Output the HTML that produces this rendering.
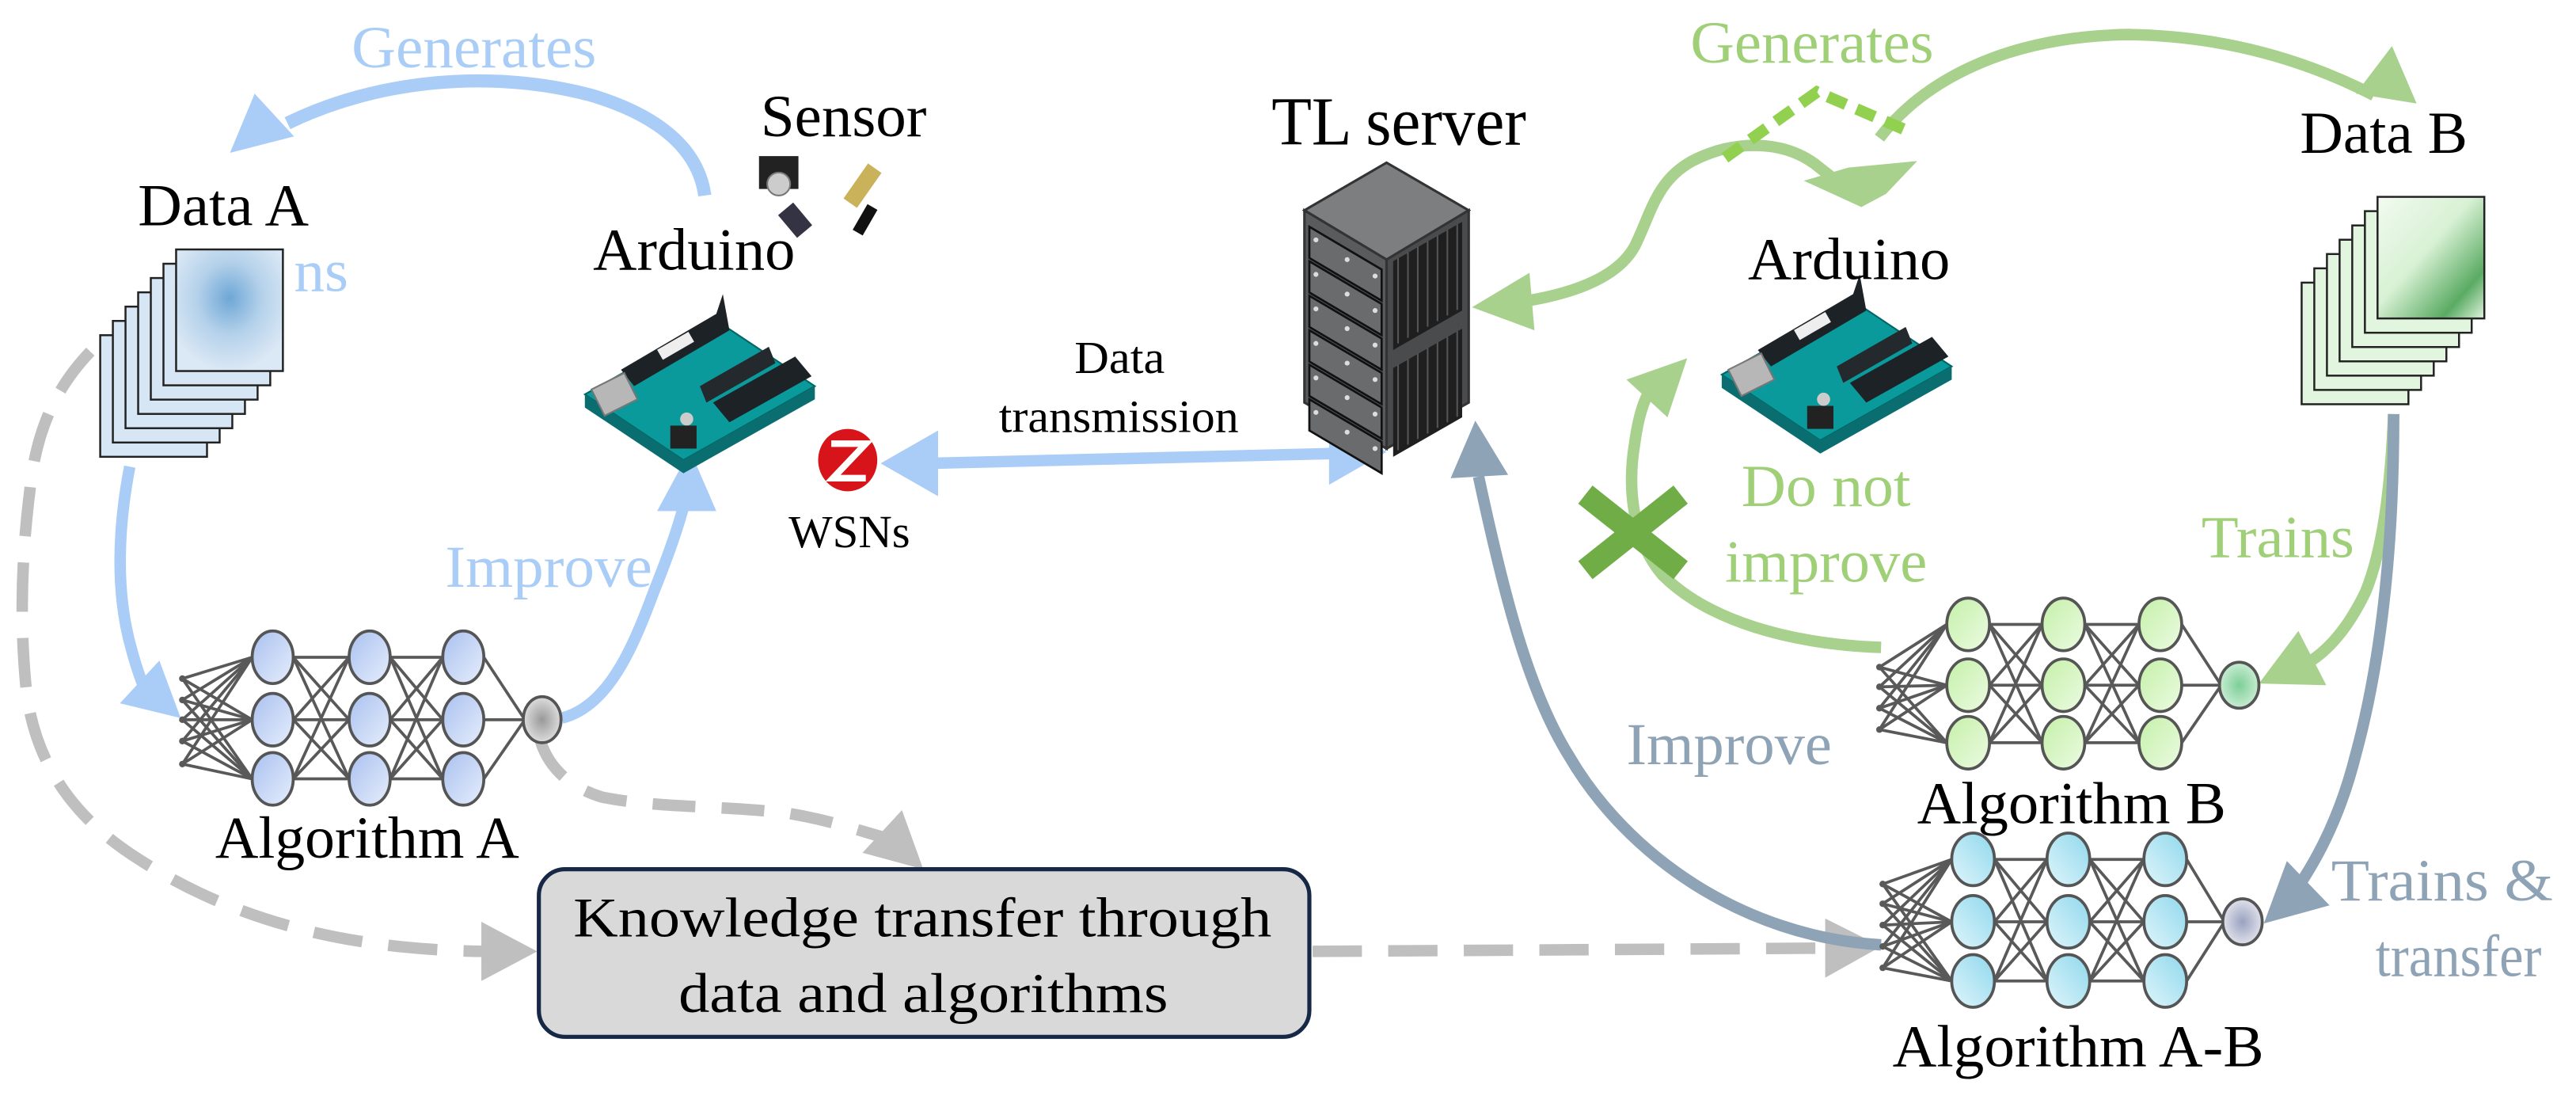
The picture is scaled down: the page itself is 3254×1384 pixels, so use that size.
<!DOCTYPE html>
<html><head><meta charset="utf-8"><style>
html,body{margin:0;padding:0;background:#fff;}
svg{display:block;}
svg text{font-family:"Liberation Serif","DejaVu Serif","Times New Roman",Times,serif !important;}
</style></head><body>
<svg id="s" width="3254" height="1384" viewBox="0 0 1568 667" preserveAspectRatio="none" xmlns="http://www.w3.org/2000/svg" style="font-family:'Liberation Serif','DejaVu Serif',serif">
<defs>
<linearGradient id="gA" x1="0" y1="0" x2="1" y2="1"><stop offset="0" stop-color="#a9c0ef"/><stop offset="1" stop-color="#e6eefc"/></linearGradient>
<linearGradient id="gB" x1="0" y1="0" x2="1" y2="1"><stop offset="0" stop-color="#c4f0a8"/><stop offset="1" stop-color="#ecfbe2"/></linearGradient>
<linearGradient id="gC" x1="1" y1="0" x2="0" y2="1"><stop offset="0" stop-color="#8fd8ec"/><stop offset="1" stop-color="#e0f5fb"/></linearGradient>
<radialGradient id="oA"><stop offset="0" stop-color="#999"/><stop offset="1" stop-color="#ddd"/></radialGradient>
<radialGradient id="oB"><stop offset="0" stop-color="#7dcf98"/><stop offset="1" stop-color="#c8ecd2"/></radialGradient>
<radialGradient id="oC"><stop offset="0" stop-color="#9aa2c0"/><stop offset="1" stop-color="#dfe1ea"/></radialGradient>
<radialGradient id="hA" cx="0.5" cy="0.4" r="0.6"><stop offset="0" stop-color="#6ea7d6"/><stop offset="0.5" stop-color="#b4d1ea"/><stop offset="1" stop-color="#dbe8f5"/></radialGradient>
<linearGradient id="hB" x1="0" y1="0" x2="1" y2="1"><stop offset="0" stop-color="#f2fbf0"/><stop offset="0.45" stop-color="#d8f1d4"/><stop offset="0.8" stop-color="#5aab63"/><stop offset="1" stop-color="#e1f4de"/></linearGradient>
</defs>

<g id="stackA" stroke="#222" stroke-width="1.2" fill="#d6e6f5"></g>
<g id="stackB" stroke="#222" stroke-width="1.2" fill="#e2f5df"></g>

<path d="M429,119 C425,90 400,70 360,58 C300,42 230,48 175,75" fill="none" stroke="#a9cdf7" stroke-width="8"/>
<polygon points="140,93 155,57 179,83" fill="#a9cdf7"/>
<path d="M79,284 C72,320 70,360 80,395 C84,410 88,420 92,428" fill="none" stroke="#a9cdf7" stroke-width="7"/>
<polygon points="110,437 73,428 97,402" fill="#a9cdf7"/>
<path d="M342,437 C370,430 385,395 398,360 C408,335 413,320 417,305" fill="none" stroke="#a9cdf7" stroke-width="7"/>
<polygon points="420,274 400,311 436,311" fill="#a9cdf7"/>
<line x1="565" y1="282" x2="812" y2="276" stroke="#a9cdf7" stroke-width="7"/>
<polygon points="536,282 571,262 571,302" fill="#a9cdf7"/>
<polygon points="844,275 809,255 809,295" fill="#a9cdf7"/>

<path d="M55,214 C35,235 22,260 18,300 C13,340 12,380 16,420 C22,470 50,500 80,520 C140,560 210,578 295,579" fill="none" stroke="#bfbfbf" stroke-width="7" stroke-dasharray="30,16"/>
<polygon points="327,579 293,561 293,597" fill="#bfbfbf"/>
<path d="M329,451 C335,470 350,480 366,485 C400,492 440,490 480,495 C510,500 530,508 540,510" fill="none" stroke="#bfbfbf" stroke-width="7" stroke-dasharray="26,16"/>
<polygon points="562,529 525,519 549,493" fill="#bfbfbf"/>
<line x1="799" y1="579" x2="1115" y2="577" stroke="#bfbfbf" stroke-width="7" stroke-dasharray="30,16"/>
<polygon points="1145,576 1111,559 1111,595" fill="#bfbfbf"/>

<rect x="328" y="529" width="469" height="102" rx="16" fill="#d9d9d9" stroke="#162845" stroke-width="2.5"/>
<text x="349" y="570" font-size="34" textLength="425" lengthAdjust="spacingAndGlyphs">Knowledge transfer through</text>
<text x="413" y="616" font-size="34" textLength="298" lengthAdjust="spacingAndGlyphs">data and algorithms</text>

<path d="M1144,84 C1170,50 1220,22 1296,21 C1360,22 1410,40 1445,58" fill="none" stroke="#a9d18e" stroke-width="7"/>
<polygon points="1471,63 1434,57 1456,28" fill="#a9d18e"/>
<path d="M930,183 C960,178 985,168 995,150 C1005,130 1008,110 1030,98 C1055,85 1085,85 1105,100 C1115,108 1122,113 1126,118" fill="none" stroke="#a9d18e" stroke-width="7"/>
<polygon points="896,187 931,166 934,201" fill="#a9d18e"/>
<polygon points="1133,126 1098,110 1125,102 1167,98 1148,118" fill="#a9d18e"/>
<path d="M1050,96 L1106,56 L1162,80" fill="none" stroke="#92d050" stroke-width="7" stroke-dasharray="12,7"/>
<path d="M1145,394 C1090,392 1040,378 1012,350 C995,330 990,300 995,270 C997,255 1000,245 1004,238" fill="none" stroke="#a9d18e" stroke-width="7"/>
<polygon points="1027,218 990,231 1015,254" fill="#a9d18e"/>
<g stroke="#70ad47" stroke-width="14"><line x1="965" y1="301" x2="1023" y2="347"/><line x1="1023" y1="301" x2="965" y2="347"/></g>
<path d="M1457,252 C1455,300 1450,335 1440,360 C1428,385 1415,398 1402,405" fill="none" stroke="#a9d18e" stroke-width="7"/>
<polygon points="1375,416 1399,384 1416,417" fill="#a9d18e"/>
<path d="M1457,252 C1457,330 1450,400 1434,459 C1425,495 1412,520 1400,538" fill="none" stroke="#8ea3b5" stroke-width="7"/>
<polygon points="1378,562 1392,524 1418,551" fill="#8ea3b5"/>
<path d="M1145,575 C1060,570 990,520 955,460 C930,420 915,360 900,290" fill="none" stroke="#8ea3b5" stroke-width="7"/>
<polygon points="898,256 883,291 918,289" fill="#8ea3b5"/>

<g stroke="#333" stroke-width="1.5">
<polygon points="844,99 894,128 844,158 794,128" fill="#7d7e80"/>
<polygon points="794,128 844,158 844,273 794,245" fill="#5a5b5d"/>
<polygon points="844,158 894,128 894,245 844,273" fill="#4a4b4d"/>
</g>
<g id="srv"></g>

<g id="ardL" transform="translate(356,185)"></g>
<g id="ardR" transform="translate(1048,173)"></g>

<g>
<rect x="462" y="95" width="24" height="20" fill="#222"/>
<circle cx="474" cy="112" r="7" fill="#ccc" stroke="#777"/>
<rect x="520" y="100" width="10" height="26" fill="#c9b25a" transform="rotate(35 525 113)"/>
<rect x="478" y="125" width="12" height="18" fill="#334" transform="rotate(-40 484 134)"/>
<rect x="523" y="125" width="7" height="18" fill="#111" transform="rotate(30 527 134)"/>
</g>

<ellipse cx="516" cy="280" rx="18" ry="19" fill="#d7141a"/>
<path d="M506,270 L527,270 L507,291 L527,291" fill="none" stroke="#fff" stroke-width="4"/>

<g id="nets"></g>

<g font-size="36">
<text x="214" y="41" fill="#a9cdf7" textLength="149" lengthAdjust="spacingAndGlyphs">Generates</text>
<text x="1029" y="38" fill="#9fd077" textLength="148" lengthAdjust="spacingAndGlyphs">Generates</text>
<text x="463" y="83" textLength="101" lengthAdjust="spacingAndGlyphs">Sensor</text>
<text x="84" y="137" textLength="104" lengthAdjust="spacingAndGlyphs">Data A</text>
<text x="179" y="177" fill="#a9cdf7" textLength="33" lengthAdjust="spacingAndGlyphs">ns</text>
<text x="361" y="164" textLength="123" lengthAdjust="spacingAndGlyphs">Arduino</text>
<text x="774" y="88" font-size="42" textLength="155" lengthAdjust="spacingAndGlyphs">TL server</text>
<text x="1064" y="170" textLength="123" lengthAdjust="spacingAndGlyphs">Arduino</text>
<text x="1400" y="93" textLength="102" lengthAdjust="spacingAndGlyphs">Data B</text>
<text x="271" y="357" fill="#a9cdf7" textLength="126" lengthAdjust="spacingAndGlyphs">Improve</text>
<text x="1060" y="308" fill="#9fd077" textLength="103" lengthAdjust="spacingAndGlyphs">Do not</text>
<text x="1050" y="354" fill="#9fd077" textLength="123" lengthAdjust="spacingAndGlyphs">improve</text>
<text x="1340" y="339" fill="#9fd077" textLength="93" lengthAdjust="spacingAndGlyphs">Trains</text>
<text x="990" y="465" fill="#8ea3b5" textLength="125" lengthAdjust="spacingAndGlyphs">Improve</text>
<text x="131" y="522" textLength="185" lengthAdjust="spacingAndGlyphs">Algorithm A</text>
<text x="1167" y="501" textLength="188" lengthAdjust="spacingAndGlyphs">Algorithm B</text>
<text x="1152" y="649" textLength="226" lengthAdjust="spacingAndGlyphs">Algorithm A-B</text>
<text x="1419" y="548" fill="#8ea3b5" textLength="135" lengthAdjust="spacingAndGlyphs">Trains &amp;</text>
<text x="1446" y="594" fill="#8ea3b5" textLength="101" lengthAdjust="spacingAndGlyphs">transfer</text>
</g>
<g font-size="28">
<text x="654" y="227" textLength="55" lengthAdjust="spacingAndGlyphs">Data</text>
<text x="608" y="263" textLength="146" lengthAdjust="spacingAndGlyphs">transmission</text>
<text x="480" y="333" textLength="74" lengthAdjust="spacingAndGlyphs">WSNs</text>
</g>
</svg>
<script>
var NS="http://www.w3.org/2000/svg";
function el(p,t,a){var e=document.createElementNS(NS,t);for(var k in a)e.setAttribute(k,a[k]);p.appendChild(e);return e;}
function stack(id,x0,y0,fill){var g=document.getElementById(id);
 for(var i=0;i<7;i++){var x=x0+i*7.7,y=y0-i*8.7;
  el(g,'rect',{x:x,y:y,width:65,height:74,fill:i==6?fill:(id=='stackA'?'#d6e6f5':'#e2f5df')});}}
stack('stackA',61,204,'url(#hA)');
stack('stackB',1401,172,'url(#hB)');
var s=document.getElementById('srv');
for(var i=0;i<6;i++){var y=138+i*21;
 el(s,'polygon',{points:"797,"+(y)+" 841,"+(y+26)+" 841,"+(y+45)+" 797,"+(y+19),fill:"#6a6b6d",stroke:"#111","stroke-width":1.3});
 el(s,'circle',{cx:801,cy:y+8,r:1.5,fill:"#ddd"});el(s,'circle',{cx:820,cy:y+20,r:1.5,fill:"#ddd"});el(s,'circle',{cx:837,cy:y+30,r:1.5,fill:"#ddd"});}
for(var h=0;h<2;h++){var y0=h?212:147;
 el(s,'polygon',{points:"848,"+(y0+12)+" 890,"+(y0-12)+" 890,"+(y0+42)+" 848,"+(y0+66),fill:"#1f1f20"});
 for(var j=0;j<7;j++){var x=851+j*6;el(s,'line',{x1:x,y1:y0+10-j*3.4,x2:x,y2:y0+62-j*3.4,stroke:"#555","stroke-width":1});}}
function ard(id){var g=document.getElementById(id);
 el(g,'polygon',{points:"0,55 80,10 140,50 60,95",fill:"#0b9a9b",stroke:"#066"});
 el(g,'polygon',{points:"60,95 140,50 140,58 60,103 0,63 0,55",fill:"#0a6e70"});
 el(g,'polygon',{points:"22,40 80,6 84,-6 88,16 30,50",fill:"#1d2226"});
 el(g,'polygon',{points:"78,60 128,32 138,44 88,72",fill:"#1d2226"});
 el(g,'polygon',{points:"70,50 112,26 116,36 74,60",fill:"#24292d"});
 el(g,'polygon',{points:"4,52 24,42 32,58 12,68",fill:"#b7b7b7",stroke:"#777"});
 el(g,'rect',{x:44,y:22,width:22,height:7,fill:"#eee",transform:"rotate(-30 55 25)"});
 el(g,'circle',{cx:62,cy:70,r:4,fill:"#ccc"});el(g,'rect',{x:52,y:74,width:16,height:14,fill:"#222"});}
ard('ardL');ard('ardR');
var nets=document.getElementById('nets');
function net(cols,rows,rx,ry,inX,ins,outX,fill,ofill){
 var g=el(nets,'g',{});
 var L=[];cols.forEach(function(c){L.push(rows.map(function(r){return[c,r];}));});
 var st={stroke:"#595959","stroke-width":1.8};
 ins.forEach(function(y){L[0].forEach(function(n){el(g,'line',Object.assign({x1:inX,y1:y,x2:n[0]-rx,y2:n[1]},st));});});
 for(var l=0;l<L.length-1;l++)L[l].forEach(function(a){L[l+1].forEach(function(b){el(g,'line',Object.assign({x1:a[0]+rx,y1:a[1],x2:b[0]-rx,y2:b[1]},st));});});
 var oy=rows[1];
 L[L.length-1].forEach(function(a){el(g,'line',Object.assign({x1:a[0]+rx,y1:a[1],x2:outX-rx+2,y2:oy},st));});
 ins.forEach(function(y){el(g,'circle',{cx:inX,cy:y,r:2,fill:"#595959"});});
 L.forEach(function(c){c.forEach(function(n){el(g,'ellipse',{cx:n[0],cy:n[1],rx:rx,ry:ry,fill:fill,stroke:"#555","stroke-width":1.8});});});
 el(g,'ellipse',{cx:outX,cy:oy,rx:rx-1,ry:ry-2,fill:ofill,stroke:"#555","stroke-width":1.8});
}
net([166,225,282],[400,438,474],12.5,16,111,[413,426,438,451,465],330,"url(#gA)","url(#oA)");
net([1198,1256,1315],[380,417,452],13,16,1144,[406,418,431,444],1363,"url(#gB)","url(#oB)");
net([1201,1259,1318],[523,561,597],13,16,1146,[538,550,563,576,589],1365,"url(#gC)","url(#oC)");
</script>
</body></html>
